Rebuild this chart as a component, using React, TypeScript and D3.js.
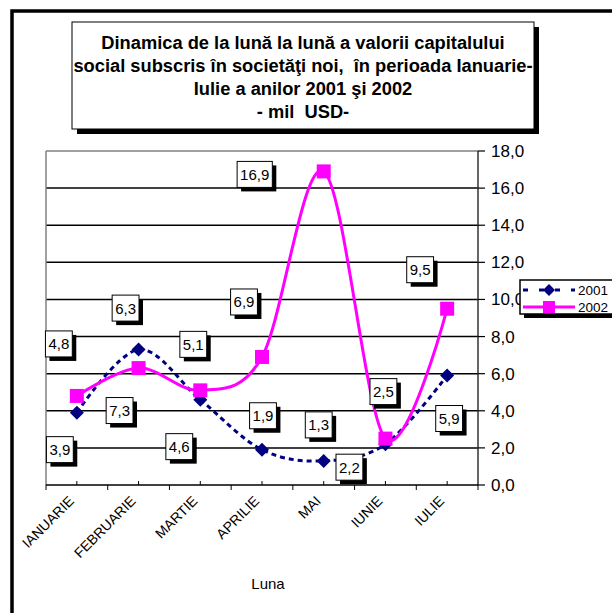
import React from "react";
import * as d3 from "d3";

const months = ["IANUARIE", "FEBRUARIE", "MARTIE", "APRILIE", "MAI", "IUNIE", "IULIE"];
const values2001 = [3.9, 7.3, 4.6, 1.9, 1.3, 2.2, 5.9];
const values2002 = [4.8, 6.3, 5.1, 6.9, 16.9, 2.5, 9.5];
const yTicks = [0, 2, 4, 6, 8, 10, 12, 14, 16, 18];
const seriesNames = ["2001", "2002"];
const titleLines = [
  "Dinamica de la lună la lună a valorii capitalului",
  "social subscris în societăţi noi,  în perioada Ianuarie-",
  "Iulie a anilor 2001 şi 2002",
  "- mil  USD-",
];
const axisTitle = "Luna";
// label offsets (px) relative to each point
const labelOffsets2001 = [[-17, 37], [-19, 61], [-21, 47], [1, -34], [-5, -36], [-36, 23], [2, 43]];
const labelOffsets2002 = [[-18, -52], [-13, -60], [-7, -46], [-18, -55], [-69, 3], [-2, -47], [-27, -39]];

const FONT = "'Liberation Sans', Arial, Helvetica, sans-serif";
const fmt = (v: number) => v.toFixed(1).replace(".", ",");

function textW(s: string, size: number) {
  let w = 0;
  for (const c of s) w += c === "," ? 0.278 : 0.556;
  return w * size;
}

export default function App() {
  const W = 612, H = 613;
  const x = d3.scaleBand<string>().domain(months).range([46, 478]);
  const y = d3.scaleLinear().domain([0, 18]).range([485, 151]);
  const cx = (m: string) => (x(m) as number) + x.bandwidth() / 2;

  const line = d3
    .line<number>()
    .x((_, i) => cx(months[i]))
    .y((d) => y(d))
    .curve(d3.curveCardinal.tension(0));

  const navy = "#000080";
  const magenta = "#FF00FF";

  const boundaries = d3.range(months.length + 1).map((i) => 46 + i * x.bandwidth());

  const labelBox = (v: number, px: number, py: number, key: string) => {
    const t = fmt(v);
    const w = textW(t, 15) + 6;
    const h = 26;
    const bx = px - w / 2, by = py - h / 2;
    return (
      <g key={key}>
        <rect x={bx + 4} y={by + 4} width={w} height={h} fill="#000" />
        <rect x={bx} y={by} width={w} height={h} fill="#fff" stroke="#000" strokeWidth={1} />
        <text x={px} y={py + 5.5} textAnchor="middle" fontSize={15} fontFamily={FONT} fill="#000">
          {t}
        </text>
      </g>
    );
  };

  return (
    <svg width={W} height={H} style={{ position: "absolute", left: 0, top: 0, background: "#fff" }}>
      {/* outer chart border */}
      <rect x={12} y={11} width={W} height={H} fill="#fff" stroke="#000" strokeWidth={3.5} />

      {/* title box */}
      <rect x={77} y={27} width={462} height={107} fill="#000" />
      <rect x={72} y={22} width={462} height={107} fill="#fff" stroke="#000" strokeWidth={1} />
      {titleLines.map((t, i) => (
        <text
          key={i}
          x={303}
          y={48.5 + i * 23.3}
          textAnchor="middle"
          fontSize={18.3}
          fontWeight="bold"
          fontFamily={FONT}
          style={{ whiteSpace: "pre" }}
        >
          {t}
        </text>
      ))}

      {/* gridlines */}
      {yTicks.filter((t) => t > 0 && t < 18).map((t) => (
        <line key={t} x1={46} x2={478} y1={y(t)} y2={y(t)} stroke="#000" strokeWidth={1.5} />
      ))}
      {/* plot border (gray) */}
      <line x1={46} x2={478} y1={y(18)} y2={y(18)} stroke="#808080" strokeWidth={1.5} />
      <line x1={46} x2={46} y1={y(18)} y2={y(0)} stroke="#808080" strokeWidth={1.5} />

      {/* right axis */}
      <line x1={478} x2={478} y1={y(18)} y2={y(0)} stroke="#333" strokeWidth={1.5} />
      {yTicks.map((t) => (
        <g key={t}>
          <line x1={478} x2={485} y1={y(t)} y2={y(t)} stroke="#000" strokeWidth={1.2} />
          <text x={491} y={y(t) + 6} fontSize={17} fontFamily={FONT}>
            {fmt(t)}
          </text>
        </g>
      ))}

      {/* bottom axis */}
      <line x1={46} x2={478} y1={y(0)} y2={y(0)} stroke="#000" strokeWidth={1.5} />
      {boundaries.map((b, i) => (
        <line key={"b" + i} x1={b} x2={b} y1={y(0)} y2={y(0) + 5} stroke="#000" strokeWidth={1} />
      ))}
      {months.map((m) => (
        <line key={"c" + m} x1={cx(m)} x2={cx(m)} y1={y(0)} y2={y(0) - 4} stroke="#000" strokeWidth={1} />
      ))}
      {months.map((m) => (
        <text
          key={"l" + m}
          transform={`translate(${cx(m) - 2},${y(0) + 17}) rotate(-45)`}
          textAnchor="end"
          fontSize={14}
          fontFamily={FONT}
        >
          {m}
        </text>
      ))}
      <text x={268} y={589} textAnchor="middle" fontSize={15} fontFamily={FONT}>
        {axisTitle}
      </text>

      {/* series 2001 */}
      <path d={line(values2001) as string} fill="none" stroke={navy} strokeWidth={3} strokeDasharray="5,4" />
      {values2001.map((v, i) => {
        const px = cx(months[i]), py = y(v);
        return <path key={i} d={`M${px},${py - 7}L${px + 7},${py}L${px},${py + 7}L${px - 7},${py}Z`} fill={navy} />;
      })}

      {/* series 2002 */}
      <path d={line(values2002) as string} fill="none" stroke={magenta} strokeWidth={3} />
      {values2002.map((v, i) => {
        const px = cx(months[i]), py = y(v);
        return <rect key={i} x={px - 7} y={py - 7} width={14} height={14} fill={magenta} />;
      })}

      {/* data labels */}
      {values2001.map((v, i) =>
        labelBox(v, cx(months[i]) + labelOffsets2001[i][0], y(v) + labelOffsets2001[i][1], "a" + i)
      )}
      {values2002.map((v, i) =>
        labelBox(v, cx(months[i]) + labelOffsets2002[i][0], y(v) + labelOffsets2002[i][1], "b" + i)
      )}

      {/* legend */}
      <rect x={524} y={284} width={100} height={34} fill="#000" />
      <rect x={520} y={280} width={100} height={34} fill="#fff" stroke="#000" strokeWidth={1.5} />
      <line x1={523} x2={575} y1={290} y2={290} stroke={navy} strokeWidth={3} strokeDasharray="5,11" />
      <path d="M549,284L555,290L549,296L543,290Z" fill={navy} />
      <text x={578} y={295} fontSize={13.5} fontFamily={FONT}>{seriesNames[0]}</text>
      <line x1={523} x2={575} y1={307} y2={307} stroke={magenta} strokeWidth={3} />
      <rect x={543} y={301} width={12} height={12} fill={magenta} />
      <text x={578} y={312} fontSize={13.5} fontFamily={FONT}>{seriesNames[1]}</text>
    </svg>
  );
}
